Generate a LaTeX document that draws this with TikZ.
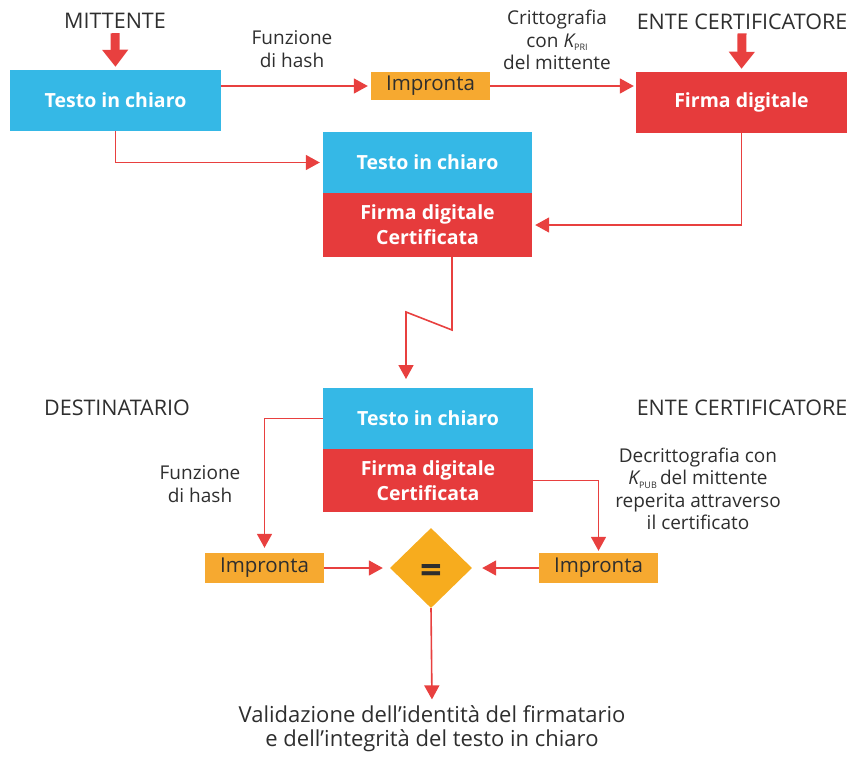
\documentclass[tikz,border=0pt]{standalone}
\usepackage{fontspec}
\setmainfont{Open Sans}
\usetikzlibrary{arrows.meta,shapes.geometric}

\definecolor{cyanbox}{HTML}{35B8E6}
\definecolor{redbox}{HTML}{E63B3C}
\definecolor{orangebox}{HTML}{F6A930}
\definecolor{diamfill}{HTML}{F7AC1E}
\definecolor{txt}{HTML}{2E2E2E}
\definecolor{lin}{HTML}{E8403F}

\newcommand{\ksub}[1]{{\itshape K}\raisebox{-0.35ex}{\fontsize{9}{9}\selectfont #1}}

\tikzset{
  block/.style={rectangle, inner sep=0pt, text=white, align=center,
    font=\fontsize{19.5}{25}\selectfont\bfseries},
  bluebox/.style={block, fill=cyanbox},
  redbx/.style={block, fill=redbox},
  hashbox/.style={rectangle, inner sep=0pt, fill=orangebox, text=txt,
    minimum width=119pt, font=\fontsize{20.5}{22}\selectfont},
  actor/.style={text=txt, font=\fontsize{21.5}{24}\selectfont},
  note/.style={text=txt, align=center, font=\fontsize{19}{22.5}\selectfont},
  arr/.style={draw=lin, line width=1.6pt,
    -{Triangle[width=15pt,length=14pt]}},
  fat/.style={draw=lin, line width=9pt,
    -{Triangle[width=25pt,length=17pt]}},
}

\begin{document}
\begin{tikzpicture}[x=1pt, y=-1pt]
  \useasboundingbox (0,0) rectangle (850,756);

  % --- sender side ---
  \node[actor] (mitt) at (115,21) {MITTENTE};
  \node[actor] (ente1) at (742,22) {ENTE CERTIFICATORE};

  \node[bluebox, minimum width=211pt, minimum height=61pt] (t1) at (115.5,100.5) {Testo in chiaro};
  \node[hashbox, minimum height=28pt] (imp1) at (430.5,86) {Impronta};
  \node[redbx, minimum width=211pt, minimum height=61pt] (fd) at (741.5,102.5) {Firma digitale};

  \node[note] (fh1) at (292,49) {Funzione\\di hash};
  \node[note] (cr) at (557,40) {Crittografia\\con \ksub{PRI}\\del mittente};

  % message sent: text + certified signature
  \node[bluebox, minimum width=209pt, minimum height=61pt] (mt) at (427.5,162.5) {Testo in chiaro};
  \node[redbx, minimum width=209pt, minimum height=64pt] (mb) at (427.5,225) {Firma digitale\\Certificata};

  % message received
  \node[bluebox, minimum width=210pt, minimum height=61pt] (bt) at (428,418.5) {Testo in chiaro};
  \node[redbx, minimum width=210pt, minimum height=63pt] (bb) at (428,480.5) {Firma digitale\\Certificata};

  % --- receiver side ---
  \node[actor] (dest) at (117,408) {DESTINATARIO};
  \node[actor] (ente2) at (742,408) {ENTE CERTIFICATORE};

  \node[note] (fh2) at (200,484) {Funzione\\di hash};
  \node[note] (dec) at (698,489) {Decrittografia con\\\ksub{PUB}\,del mittente\\reperita attraverso\\il certificato};

  \node[hashbox, minimum height=30pt] (imp2) at (264.5,568) {Impronta};
  \node[hashbox, minimum height=30pt] (imp3) at (598.5,568) {Impronta};
  % comparison diamond, with the equals sign set a little below its centre
  \node[diamond, aspect=1, fill=diamfill, inner sep=0pt, minimum width=82pt,
        minimum height=80pt,
        label={[text=txt, font=\fontsize{38}{38}\selectfont\bfseries, yshift=-6pt]center:=}]
        (eq) at (431,568) {};

  \node[text=txt, align=center, font=\fontsize{22}{24}\selectfont] (val) at (432,729)
    {Validazione dell’identità del firmatario\\e dell’integrità del testo in chiaro};

  % --- connectors ---
  \draw[fat, shorten <=1pt, shorten >=3pt] (mitt.south) -- (t1.north);
  \draw[fat, shorten <=0pt, shorten >=3pt] (ente1.south) -- (fd.north);

  \draw[arr, shorten >=3pt] (t1.east |- imp1.west) -- (imp1.west);
  \draw[arr, shorten >=2pt] (imp1.east) -- (fd.west |- imp1.east);
  \draw[arr, shorten >=3pt] (t1.south) |- (mt.west);
  \draw[arr, shorten >=3pt] (fd.south) |- (mb.east);

  \coordinate (z1) at ([xshift=24.5pt]mb.south);
  \coordinate (z2) at (452,330);
  \coordinate (z3) at (406,312);
  \coordinate (z4) at (406,388);
  \draw[arr, shorten >=9pt] (z1) -- (z2) -- (z3) -- (z4);

  \draw[arr, shorten >=5pt] (bt.west) -| (imp2.north);
  \draw[arr, shorten >=2pt] (bb.east) -| (imp3.north);
  \draw[arr, shorten >=7pt] (imp2.east) -- (eq.west);
  \draw[arr, shorten >=10pt] (imp3.west) -- (eq.east);
  \draw[arr, shorten >=3pt] (eq.south) -- (val.north);
\end{tikzpicture}
\end{document}
